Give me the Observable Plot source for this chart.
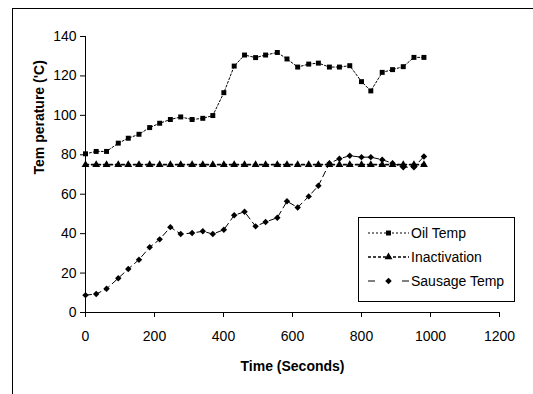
<!DOCTYPE html>
<html><head><meta charset="utf-8">
<script src="https://cdn.jsdelivr.net/npm/d3@7"></script>
<script src="https://cdn.jsdelivr.net/npm/@observablehq/plot@0.6"></script>
<style>
body{margin:0;background:#fff;font-family:Arial,"Liberation Sans",sans-serif;}
#wrap{position:relative;width:533px;height:394px;overflow:hidden;background:#fff;}
#frame{position:absolute;left:12px;top:8px;right:-2px;bottom:-2px;border-top:1px solid #000;border-left:1px solid #000;}
#chart{position:absolute;left:0;top:0;}
#legend{position:absolute;left:358px;top:217px;width:157px;height:85px;border:1px solid #000;background:#fff;box-sizing:border-box;font-size:14px;color:#000;}
#legend .row{position:absolute;left:0;height:16px;display:flex;align-items:center;}
#legend svg{display:block;margin-left:9px;}
#legend span{margin-left:2px;white-space:nowrap;}
</style></head>
<body>
<div id="wrap"><div id="frame"></div><div id="chart"></div><div id="legend"></div></div>
<script>
// Data
const times = [0,31,61,95,124,155,186,215,246,276,309,340,369,401,431,461,493,522,556,584,615,647,675,707,736,766,800,827,860,890,921,952,981];
const oilTemp = [80.5,81.7,81.7,85.9,88.4,90.4,93.8,96,97.9,99.2,97.9,98.5,99.9,111.5,125,130.6,129.3,130.6,131.9,128.6,124.5,126,126.5,124.5,124.5,125.2,117.1,112.4,121.8,123.2,124.7,129.4,129.4];
const inactivation = [75,75,75,75,75,75,75,75,75,75,75,75,75,75,75,75,75,75,75,75,75,75,75,75,75,75,75,75,75,75,75,75,75];
const sausageTemp = [8.8,9.4,12,17.4,22.1,26.8,33.1,37.1,43.3,39.8,40.3,41.2,39.8,42,49.3,51.1,43.7,45.9,48.1,56.4,53.3,58.9,64.3,75.7,78,79.5,78.8,78.8,77.5,75.7,73.7,73.7,79.1];
const xTicks = [0,200,400,600,800,1000,1200];
const yTicks = [0,20,40,60,80,100,120,140];
const seriesNames = ["Oil Temp","Inactivation","Sausage Temp"];
const xLabel = "Time (Seconds)";
const yLabel = "Tem perature ('C)";

const rows = times.map((t,i)=>({t, oil: oilTemp[i], inact: inactivation[i], saus: sausageTemp[i]}));

const styles = [
  {key:"oil", symbol:"square", r:2.8, dash:"2,2", legendDash:"2,2", width:1},
  {key:"inact", symbol:"triangle", r:2.9, dash:"3,3", legendDash:"3,2", width:1.6},
  {key:"saus", symbol:"diamond2", r:2.9, dash:"6,4", legendDash:"7,27,7", width:1}
];

const marks = [
  Plot.ruleX([0], {stroke:"#000", strokeWidth:1}),
  Plot.ruleY([0], {stroke:"#000", strokeWidth:1}),
  Plot.axisX({ticks:xTicks, tickSize:5, tickPadding:14, label:null, tickFormat:d=>String(d)}),
  Plot.axisY({ticks:yTicks, tickSize:5, tickPadding:4, label:null, tickFormat:d=>String(d)}),
  Plot.text([xLabel], {frameAnchor:"bottom", dy:58, fontWeight:"bold", fontSize:14}),
  Plot.text([yLabel], {frameAnchor:"left", dx:-46, rotate:-90, fontWeight:"bold", fontSize:14})
];
for (const s of styles) {
  marks.push(Plot.line(rows, {x:"t", y:s.key, stroke:"#000", strokeWidth:s.width, strokeDasharray:s.dash}));
  marks.push(Plot.dot(rows, {x:"t", y:s.key, symbol:s.symbol, r:s.r, fill:"#000", stroke:"none"}));
}

const chart = Plot.plot({
  width:533, height:394,
  marginLeft:85, marginRight:34, marginTop:36, marginBottom:82,
  style:{fontFamily:"Arial, 'Liberation Sans', sans-serif", fontSize:"14px", color:"#000", background:"transparent", overflow:"visible"},
  x:{domain:[0,1200]},
  y:{domain:[0,140]},
  marks
});
document.getElementById("chart").appendChild(chart);

// Legend
const legend = d3.select("#legend");
const symTypes = {square:d3.symbolSquare, triangle:d3.symbolTriangle, diamond2:d3.symbolDiamond2};
seriesNames.forEach((name,i)=>{
  const s = styles[i];
  const row = legend.append("div").attr("class","row").style("top",(7+i*24)+"px");
  const svg = row.append("svg").attr("width",41).attr("height",14);
  svg.append("line").attr("x1",0).attr("x2",41).attr("y1",7).attr("y2",7)
    .attr("stroke","#000").attr("stroke-width",s.width).attr("stroke-dasharray",s.legendDash);
  svg.append("path").attr("transform","translate(20.5,7)")
    .attr("d", d3.symbol(symTypes[s.symbol], Math.PI*s.r*s.r)()).attr("fill","#000");
  row.append("span").text(name);
});
</script>
</body></html>
